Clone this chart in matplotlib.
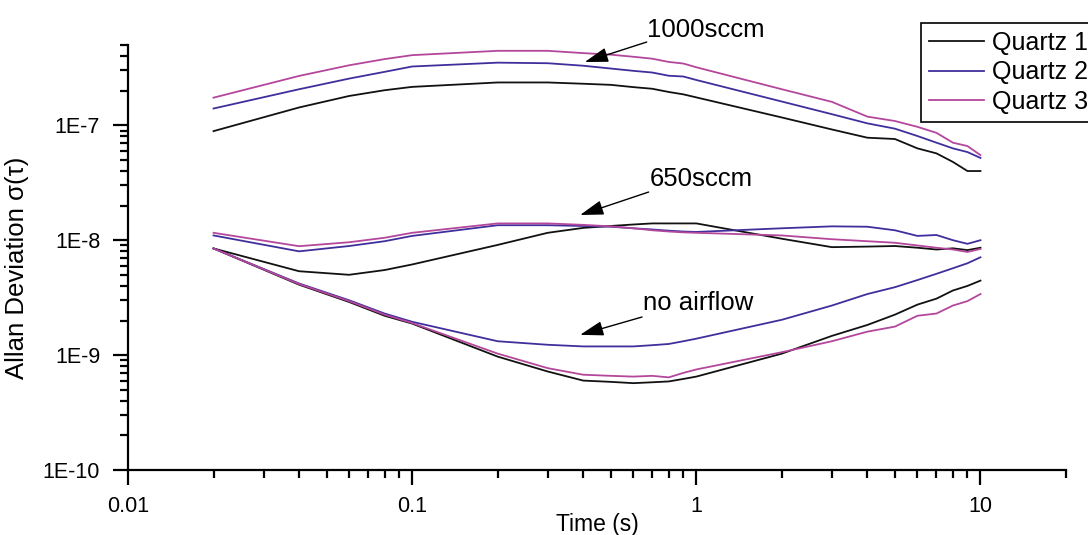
import numpy as np
import matplotlib
matplotlib.use("Agg")
import matplotlib.pyplot as plt
from matplotlib.ticker import FuncFormatter

plt.rcParams['font.family'] = ['Liberation Sans', 'DejaVu Sans']

# averaging times (s)
tau = [0.02, 0.04, 0.06, 0.08, 0.1, 0.2, 0.3, 0.4, 0.5, 0.6, 0.7, 0.8, 0.9,
       1, 2, 3, 4, 5, 6, 7, 8, 9, 10]

# 1000 sccm
q1_1000 = [8.9e-8, 1.43e-7, 1.8e-7, 2.02e-7, 2.16e-7, 2.36e-7, 2.36e-7, 2.3e-7, 2.25e-7,
           2.15e-7, 2.08e-7, 1.95e-7, 1.86e-7, 1.75e-7, 1.17e-7, 9.2e-8, 7.8e-8, 7.6e-8,
           6.3e-8, 5.7e-8, 4.8e-8, 4.0e-8, 4.0e-8]
q2_1000 = [1.40e-7, 2.06e-7, 2.55e-7, 2.92e-7, 3.25e-7, 3.51e-7, 3.47e-7, 3.3e-7, 3.12e-7,
           2.98e-7, 2.88e-7, 2.7e-7, 2.66e-7, 2.48e-7, 1.61e-7, 1.25e-7, 1.04e-7, 9.35e-8,
           8.07e-8, 7.06e-8, 6.3e-8, 5.85e-8, 5.2e-8]
q3_1000 = [1.74e-7, 2.69e-7, 3.33e-7, 3.77e-7, 4.08e-7, 4.45e-7, 4.45e-7, 4.25e-7, 4.12e-7,
           3.95e-7, 3.8e-7, 3.56e-7, 3.45e-7, 3.2e-7, 2.06e-7, 1.6e-7, 1.19e-7, 1.09e-7,
           9.7e-8, 8.6e-8, 7.06e-8, 6.6e-8, 5.5e-8]

# 650 sccm
q1_650 = [8.48e-9, 5.37e-9, 5.0e-9, 5.5e-9, 6.15e-9, 9.1e-9, 1.16e-8, 1.28e-8, 1.33e-8,
          1.37e-8, 1.4e-8, 1.4e-8, 1.4e-8, 1.4e-8, 1.03e-8, 8.7e-9, 8.8e-9, 8.9e-9,
          8.6e-9, 8.3e-9, 8.5e-9, 8.2e-9, 8.6e-9]
q2_650 = [1.1e-8, 8.0e-9, 8.9e-9, 9.8e-9, 1.09e-8, 1.35e-8, 1.35e-8, 1.33e-8, 1.31e-8,
          1.27e-8, 1.24e-8, 1.21e-8, 1.19e-8, 1.18e-8, 1.27e-8, 1.32e-8, 1.31e-8, 1.22e-8,
          1.09e-8, 1.11e-8, 1.0e-8, 9.3e-9, 1.0e-8]
q3_650 = [1.16e-8, 8.87e-9, 9.6e-9, 1.05e-8, 1.16e-8, 1.4e-8, 1.4e-8, 1.36e-8, 1.32e-8,
          1.27e-8, 1.22e-8, 1.19e-8, 1.17e-8, 1.16e-8, 1.1e-8, 1.02e-8, 9.8e-9, 9.5e-9,
          9.0e-9, 8.6e-9, 8.3e-9, 7.9e-9, 8.4e-9]

# no airflow
q1_0 = [8.48e-9, 4.1e-9, 2.9e-9, 2.2e-9, 1.88e-9, 9.7e-10, 7.2e-10, 6.0e-10, 5.85e-10,
        5.7e-10, 5.8e-10, 5.9e-10, 6.2e-10, 6.5e-10, 1.03e-9, 1.47e-9, 1.83e-9, 2.25e-9,
        2.75e-9, 3.1e-9, 3.65e-9, 4.0e-9, 4.45e-9]
q2_0 = [8.48e-9, 4.2e-9, 3.0e-9, 2.3e-9, 1.95e-9, 1.32e-9, 1.23e-9, 1.19e-9, 1.19e-9,
        1.19e-9, 1.22e-9, 1.25e-9, 1.32e-9, 1.39e-9, 2.03e-9, 2.7e-9, 3.4e-9, 3.9e-9,
        4.5e-9, 5.1e-9, 5.7e-9, 6.3e-9, 7.1e-9]
q3_0 = [8.48e-9, 4.15e-9, 2.95e-9, 2.25e-9, 1.9e-9, 1.03e-9, 7.7e-10, 6.75e-10, 6.6e-10,
        6.5e-10, 6.6e-10, 6.4e-10, 7.0e-10, 7.5e-10, 1.06e-9, 1.32e-9, 1.6e-9, 1.77e-9,
        2.2e-9, 2.3e-9, 2.7e-9, 2.95e-9, 3.4e-9]

labels = ["Quartz 1", "Quartz 2", "Quartz 3"]
couleurs = ["#111111", "#3f2f9c", "#b4479c"]

fig = plt.figure(figsize=(10.88, 5.35), dpi=100)
ax = fig.add_axes([128/1088, 65/535, 938/1088, 425/535])

groupes = [(q1_1000, q2_1000, q3_1000), (q1_650, q2_650, q3_650), (q1_0, q2_0, q3_0)]
for g, series in enumerate(groupes):
    for s, vals in enumerate(series):
        ax.plot(tau, vals, color=couleurs[s], lw=1.3,
                label=labels[s] if g == 0 else None)

ax.set_xscale('log')
ax.set_yscale('log')
ax.set_xlim(0.01, 20)
ax.set_ylim(1e-10, 5e-7)

ax.xaxis.set_major_formatter(FuncFormatter(lambda v, p: '%g' % v))
ax.yaxis.set_major_formatter(FuncFormatter(lambda v, p: '1E%d' % int(round(np.log10(v)))))

for side in ['top', 'right']:
    ax.spines[side].set_visible(False)
for side in ['left', 'bottom']:
    ax.spines[side].set_linewidth(1.6)

ax.tick_params(which='major', direction='out', length=11, width=1.6, labelsize=15.5)
ax.tick_params(axis='x', which='major', pad=8)
ax.tick_params(axis='y', which='major', pad=9)
ax.tick_params(which='minor', direction='out', length=6, width=1.6)
ax.tick_params(which='minor', labelbottom=False, labelleft=False)

ax.set_xlabel('Time (s)', fontsize=16.5)
ax.xaxis.set_label_coords(0.5, -0.1)
ax.set_ylabel('Allan Deviation σ(τ)', fontsize=18.5)
ax.yaxis.set_label_coords(-0.106, 0.475)

# annotations (fleches)
fleche = dict(arrowstyle='-|>,head_length=0.8,head_width=0.25', color='black',
              lw=1, mutation_scale=18, shrinkA=0, shrinkB=0)
notes = [("1000sccm", (0.487, 0.960), (0.553, 1.007), (0.553, 1.036)),
         ("650sccm", (0.482, 0.600), (0.555, 0.654), (0.556, 0.685)),
         ("no airflow", (0.482, 0.318), (0.548, 0.360), (0.549, 0.392))]
for txt, tete, queue, pos in notes:
    ax.annotate('', xy=tete, xytext=queue, xycoords='axes fraction',
                arrowprops=fleche, annotation_clip=False)
    ax.text(pos[0], pos[1], txt, transform=ax.transAxes, fontsize=18.5,
            ha='left', va='center', clip_on=False)

leg = ax.legend(loc='upper left', bbox_to_anchor=(921/1088, 512/535),
                bbox_transform=fig.transFigure, borderaxespad=0, fontsize=18,
                frameon=True, fancybox=False, edgecolor='black', framealpha=1,
                handlelength=2.2, handletextpad=0.3, labelspacing=0.22, borderpad=0.32)
leg.get_frame().set_linewidth(1.2)

fig.savefig('out.png', dpi=100)
